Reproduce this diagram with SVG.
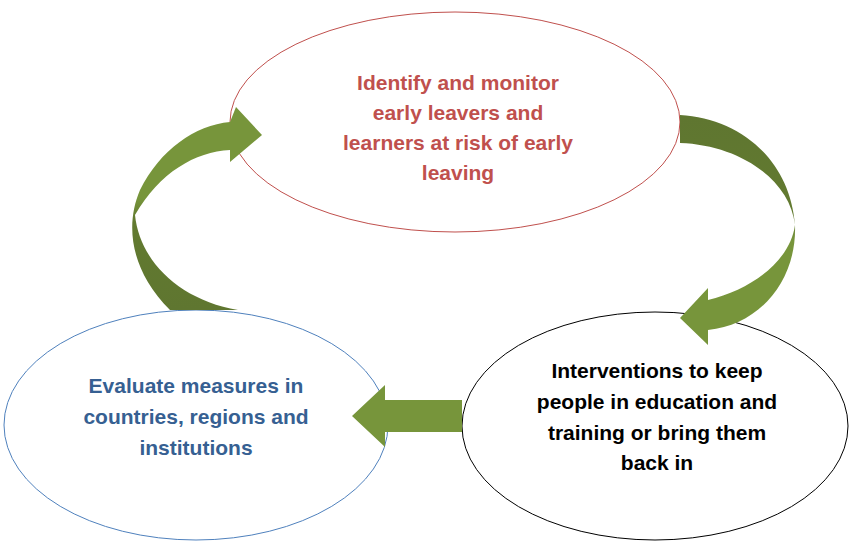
<svg xmlns="http://www.w3.org/2000/svg" width="854" height="546" viewBox="0 0 854 546">
<style>
text{font-family:"Liberation Sans",Arial,sans-serif;font-weight:bold;font-size:21px;text-anchor:middle}
.arrow{stroke:none}
</style>
<defs>
<linearGradient id="gl" x1="0" y1="1" x2="0" y2="0"><stop offset="0" stop-color="#5f7630"/><stop offset="0.45" stop-color="#627a30"/><stop offset="0.55" stop-color="#77953b"/><stop offset="1" stop-color="#77953b"/></linearGradient>
<linearGradient id="gr" x1="0" y1="0" x2="0" y2="1"><stop offset="0" stop-color="#5f7630"/><stop offset="0.45" stop-color="#627a30"/><stop offset="0.55" stop-color="#77953b"/><stop offset="1" stop-color="#77953b"/></linearGradient>
</defs>
<rect width="854" height="546" fill="#fff"/>
<g id="n1">
<ellipse cx="455" cy="122" rx="225" ry="110" fill="#fff" stroke="#c0504d" stroke-width="1"/>
<text fill="#c0504d"><tspan x="458" y="90">Identify and monitor</tspan><tspan x="458" y="120">early leavers and</tspan><tspan x="458" y="150">learners at risk of early</tspan><tspan x="458" y="180">leaving</tspan></text>
</g>
<g id="n2">
<ellipse cx="655" cy="426" rx="193" ry="114" fill="#fff" stroke="#000" stroke-width="1"/>
<text fill="#000"><tspan x="657" y="378">Interventions to keep</tspan><tspan x="657" y="409">people in education and</tspan><tspan x="657" y="440">training or bring them</tspan><tspan x="657" y="470">back in</tspan></text>
</g>
<g id="n3">
<ellipse cx="196" cy="425" rx="192" ry="115" fill="#fff" stroke="#4f81bd" stroke-width="1"/>
<text fill="#366092"><tspan x="196" y="393">Evaluate measures in</tspan><tspan x="196" y="424">countries, regions and</tspan><tspan x="196" y="455">institutions</tspan></text>
</g>
<g id="connectors">
<path class="arrow" fill="url(#gl)" d="M170,310 C130,270 125,225 140,190 C160,150 195,125 230,122 L236,107 L262,135 L230,162 L230,150 C195,152 160,172 135,215 C140,262 180,300 238,310 Z"/>
<path class="arrow" fill="url(#gr)" d="M680,115 C740,118 790,160 795,225 C797,280 760,325 708,330 L708,345 L680,318 L708,288 L708,300 C750,290 790,262 795,225 C790,180 740,145 680,143 Z"/>
<path class="arrow" fill="#77953b" d="M462,400 L385,400 L385,385 L352,416 L385,447 L385,432 L462,432 Z"/>
</g>
</svg>
